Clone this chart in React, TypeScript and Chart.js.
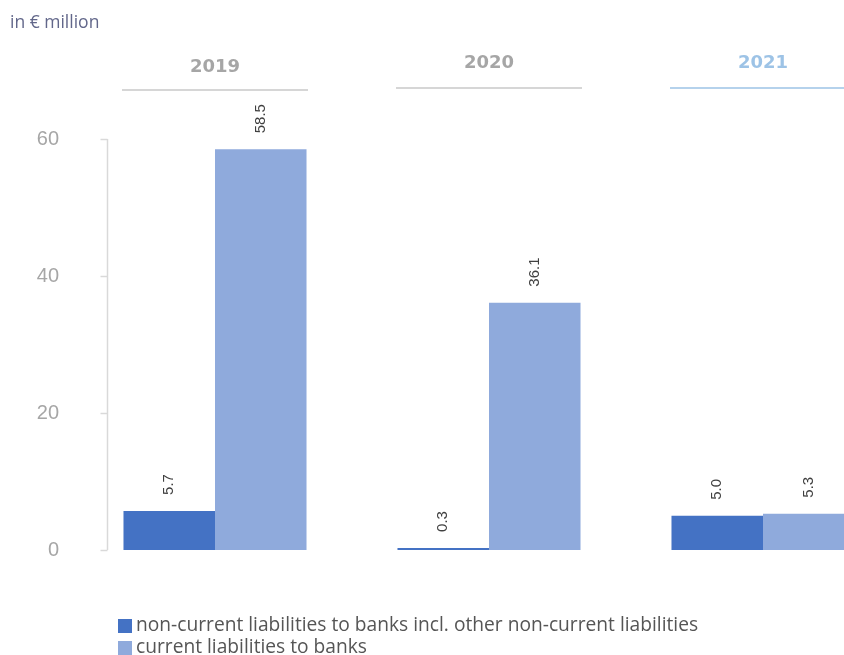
import React, { useEffect, useRef } from "react";
import { Chart, registerables } from "chart.js";
Chart.register(...registerables);

const categories = ["2019", "2020", "2021"];
const nonCurrent = [5.7, 0.3, 5.0];
const current = [58.5, 36.1, 5.3];
const seriesNames = [
  "non-current liabilities to banks incl. other non-current liabilities",
  "current liabilities to banks",
];
const seriesColors = ["#4472c4", "#8faadc"];
const yTicks = [0, 20, 40, 60];
const yMax = 60;
const unitLabel = "in € million";
const yearColors = ["#a6a6a6", "#a6a6a6", "#9dc3e6"];
const yearLineColors = ["#c8c8c8", "#c8c8c8", "#9dc3e6"];
const FONT = "'Liberation Sans', Arial, sans-serif";
const WIDE = "'Open Sans', 'Liberation Sans', sans-serif";

const decor = {
  id: "decor",
  afterDraw(chart: any) {
    const ctx = chart.ctx;
    const xs = chart.scales.x;
    const ys = chart.scales.y;
    const area = chart.chartArea;
    ctx.save();
    // unit title
    ctx.font = `17.5px ${WIDE}`;
    ctx.fillStyle = "#62678a";
    ctx.textBaseline = "middle";
    ctx.textAlign = "left";
    ctx.fillText(unitLabel, 10, 23);

    // year headers with lines
    categories.forEach((c, i) => {
      const cx = xs.getPixelForValue(i);
      ctx.font = `bold 18px 'DejaVu Sans', sans-serif`;
      ctx.fillStyle = yearColors[i];
      ctx.textAlign = "center";
      ctx.textBaseline = "middle";
      ctx.fillText(c, cx, i === 0 ? 67 : 63);
      ctx.strokeStyle = yearLineColors[i];
      ctx.lineWidth = 1.5;
      ctx.beginPath();
      ctx.moveTo(cx - 93, i === 0 ? 90 : 88);
      ctx.lineTo(cx + 93, i === 0 ? 90 : 88);
      ctx.stroke();
    });

    // y axis line and tick marks
    const ax = Math.round(area.left + 29) + 0.5;
    ctx.strokeStyle = "#d9d9d9";
    ctx.lineWidth = 1.5;
    ctx.beginPath();
    ctx.moveTo(ax, ys.getPixelForValue(yMax));
    ctx.lineTo(ax, ys.getPixelForValue(0));
    ctx.stroke();
    yTicks.forEach((t) => {
      const py = Math.round(ys.getPixelForValue(t)) + 0.5;
      ctx.beginPath();
      ctx.moveTo(ax - 7, py);
      ctx.lineTo(ax, py);
      ctx.stroke();
    });

    // data labels
    chart.data.datasets.forEach((ds: any, di: number) => {
      const meta = chart.getDatasetMeta(di);
      meta.data.forEach((bar: any, i: number) => {
        ctx.save();
        ctx.translate(bar.x, bar.y - 16);
        ctx.rotate(-Math.PI / 2);
        ctx.textAlign = "left";
        ctx.textBaseline = "middle";
        ctx.font = `15px ${FONT}`;
        ctx.fillStyle = "#404040";
        ctx.fillText(Number(ds.data[i]).toFixed(1), 0, 0);
        ctx.restore();
      });
    });

    // legend
    chart.data.datasets.forEach((ds: any, di: number) => {
      const cy = 626 + di * 22;
      ctx.fillStyle = ds.backgroundColor;
      ctx.fillRect(118, cy - 7, 14, 14);
      ctx.font = `19.2px ${WIDE}`;
      ctx.fillStyle = "#555555";
      ctx.textAlign = "left";
      ctx.textBaseline = "middle";
      ctx.fillText(ds.label, 136, cy);
    });
    ctx.restore();
  },
};

export default function App() {
  const ref = useRef<HTMLCanvasElement | null>(null);
  useEffect(() => {
    if (!ref.current) return;
    const chart = new Chart(ref.current, {
      type: "bar",
      data: {
        labels: categories,
        datasets: [
          {
            label: seriesNames[0],
            data: nonCurrent,
            backgroundColor: seriesColors[0],
            borderWidth: 0,
            categoryPercentage: 0.668,
            barPercentage: 1,
          },
          {
            label: seriesNames[1],
            data: current,
            backgroundColor: seriesColors[1],
            borderWidth: 0,
            categoryPercentage: 0.668,
            barPercentage: 1,
          },
        ],
      },
      options: {
        responsive: false,
        animation: false,
        devicePixelRatio: 1,
        layout: { padding: { top: 139, bottom: 105, left: 0, right: 0 } },
        plugins: {
          legend: { display: false },
          title: { display: false },
          tooltip: { enabled: false },
        },
        scales: {
          x: { display: false },
          y: {
            min: 0,
            max: yMax,
            afterFit: (s: any) => {
              s.width = 78;
            },
            afterBuildTicks: (s: any) => {
              s.ticks = yTicks.map((v) => ({ value: v }));
            },
            grid: { display: false, drawTicks: false },
            border: { display: false },
            ticks: {
              color: "#a6a6a6",
              padding: 19,
              font: { family: FONT, size: 20 },
            },
          },
        },
      },
      plugins: [decor],
    });
    return () => chart.destroy();
  }, []);
  return (
    <div
      style={{
        position: "fixed",
        top: 0,
        left: 0,
        width: 844,
        height: 655,
        overflow: "hidden",
        background: "#fff",
      }}
    >
      <canvas ref={ref} width={900} height={655} style={{ width: 900, height: 655, display: "block" }} />
    </div>
  );
}
